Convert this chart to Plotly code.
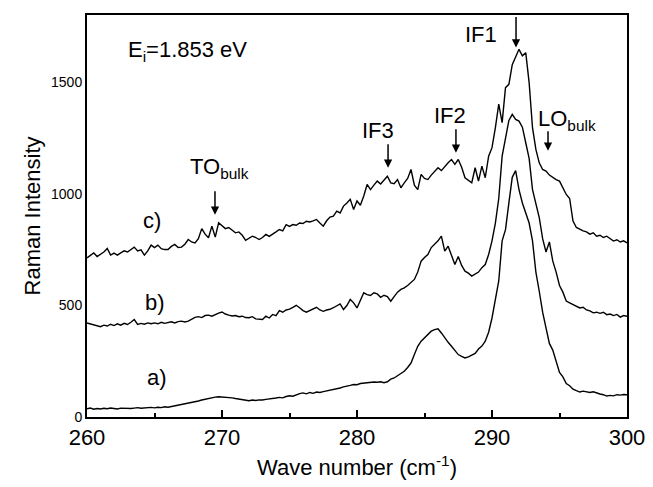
import numpy as np
import plotly.graph_objects as go

# Wave number grid (cm^-1), 0.25 cm^-1 spacing from 260 to 300
wavenumber = np.round(np.arange(260.0, 300.0001, 0.25), 2)

# Spectrum a) (rows: one row per cm^-1, 4 samples each)
spec_a = [
    37, 40, 35, 38,
    36, 39, 37, 40,
    38, 36, 40, 39,
    41, 38, 40, 42,
    39, 41, 40, 43,
    41, 44, 42, 46,
    44, 47, 50, 52,
    55, 57, 60, 64,
    67, 72, 76, 80,
    83, 87, 89, 91,
    90, 91, 89, 86,
    83, 80, 76, 74,
    73, 76, 74, 77,
    76, 79, 81, 80,
    85, 88, 86, 92,
    95, 93, 100, 105,
    108, 104, 110, 106,
    112, 110, 114, 117,
    118, 122, 126, 130,
    135, 140, 142, 146,
    145, 150, 152, 155,
    154, 157, 156, 158,
    154, 158, 170, 175,
    185, 195, 205, 222,
    242, 280, 317, 340,
    355, 372, 385, 392,
    396, 377, 355, 335,
    317, 300, 280, 272,
    265, 270, 278, 285,
    305, 318, 340, 380,
    444, 520, 610, 790,
    840, 960, 1075, 1105,
    1020, 960, 915, 870,
    790, 650, 564, 470,
    400, 330, 300, 245,
    200, 180, 150, 140,
    125, 118, 112, 116,
    114, 110, 113, 107,
    103, 100, 94, 97,
    95, 100, 98, 101,
    100,
]

# Spectrum b)
spec_b = [
    422, 418, 414, 410,
    405, 412, 408, 416,
    410, 418, 412, 420,
    415, 425, 437, 415,
    420, 416, 422, 418,
    422, 418, 425, 420,
    424, 427, 422, 428,
    430, 426, 430, 440,
    447, 450, 446, 455,
    457, 452, 460, 466,
    471, 462, 457, 453,
    455, 450, 452, 446,
    445, 450, 440, 437,
    437, 452, 444, 460,
    455, 477, 470, 480,
    484, 492, 501, 490,
    477, 470, 477, 485,
    492, 480, 474, 480,
    483, 490, 500, 507,
    482, 500, 527, 512,
    489, 520, 557, 549,
    545, 557, 552, 537,
    546, 540, 519, 540,
    560, 572, 579, 590,
    605, 617, 650, 699,
    715, 729, 760, 774,
    790, 811, 744, 766,
    729, 684, 720, 680,
    654, 645, 632, 640,
    650, 670, 684, 729,
    790, 870, 980, 1170,
    1260, 1330, 1357, 1335,
    1327, 1300, 1230, 1160,
    1020, 960, 894, 800,
    740, 785, 700, 650,
    590, 560, 520, 512,
    504, 498, 489, 492,
    480, 476, 467, 470,
    465, 470, 459, 462,
    455, 460, 448, 455,
    452,
]

# Spectrum c)
spec_c = [
    714, 725, 736, 720,
    729, 740, 756, 726,
    735, 726, 736, 745,
    740, 752, 762, 745,
    750, 726, 745, 771,
    760, 771, 755, 751,
    751, 765, 774, 760,
    762, 775, 796, 785,
    781, 800, 845, 820,
    804, 856, 807, 871,
    860, 845, 850, 840,
    826, 830, 815, 792,
    800, 811, 805, 796,
    805, 819, 810, 822,
    830, 841, 835, 863,
    855, 863, 860, 870,
    868, 878, 875, 880,
    886, 870, 856, 880,
    897, 901, 923, 915,
    946, 960, 976, 931,
    969, 950, 991, 1043,
    1020, 1040, 1058, 1045,
    1065, 1080, 1050, 1046,
    1065, 1028, 1050, 1070,
    1110, 1040, 1020, 1088,
    1070, 1065, 1085, 1103,
    1118, 1105, 1125, 1140,
    1155, 1133, 1155, 1120,
    1073, 1060, 1050, 1118,
    1058, 1125, 1073, 1170,
    1208, 1298, 1403, 1320,
    1477, 1492, 1580, 1615,
    1649, 1620, 1634, 1500,
    1298, 1200, 1140, 1110,
    1103, 1085, 1073, 1065,
    1058, 1030, 998, 980,
    879, 850, 841, 835,
    830, 820, 826, 811,
    815, 805, 811, 800,
    789, 795, 785, 790,
    781,
]

x_ticks = [260, 270, 280, 290, 300]
y_ticks = [0, 500, 1000, 1500]

# Curve labels and peak labels
curve_labels = ["a)", "b)", "c)"]
curve_label_pos = [(265.2, 175), (265.0, 512), (264.8, 880)]
peak_labels = ["TO<sub>bulk</sub>", "IF3", "IF2", "IF1", "LO<sub>bulk</sub>"]
peak_label_pos = [(267.5, 1118, "left"), (281.56, 1284, "center"), (286.9, 1351, "center"),
                  (289.2, 1715, "center"), (293.26, 1333, "left")]
arrow_tips = [(269.48, 907, -25), (282.3, 1118, -25), (287.33, 1185, -25),
              (291.78, 1657, -32), (294.15, 1194, -21)]

FONT = "Liberation Sans, Arial, sans-serif"

fig = go.Figure()
for name, ys in zip(curve_labels, [spec_a, spec_b, spec_c]):
    fig.add_trace(go.Scatter(x=wavenumber, y=ys, mode="lines", name=name,
                             line=dict(color="black", width=1.4), showlegend=False))

annotations = []
for lab, (xx, yy) in zip(curve_labels, curve_label_pos):
    annotations.append(dict(x=xx, y=yy, xref="x", yref="y", text=lab, showarrow=False,
                            font=dict(size=22, color="black", family=FONT)))
for lab, (xx, yy, anc) in zip(peak_labels, peak_label_pos):
    annotations.append(dict(x=xx, y=yy, xref="x", yref="y", text=lab, showarrow=False,
                            xanchor=anc, font=dict(size=22, color="black", family=FONT)))
for (xx, yy, ay) in arrow_tips:
    annotations.append(dict(x=xx, y=yy, xref="x", yref="y", text="", showarrow=True,
                            ax=0, ay=ay, arrowhead=2, arrowsize=1.1, arrowwidth=1.5,
                            arrowcolor="black", standoff=0, startstandoff=0))
annotations.append(dict(x=262.9, y=1643, xref="x", yref="y", xanchor="left",
                        text="E<sub>i</sub>=1.853 eV", showarrow=False,
                        font=dict(size=22, color="black", family=FONT)))

fig.update_layout(
    width=653, height=487,
    margin=dict(l=79, r=34, t=7, b=78, autoexpand=False),
    paper_bgcolor="white", plot_bgcolor="white",
    annotations=annotations,
    xaxis=dict(range=[260, 300], tickvals=x_ticks, ticks="inside", ticklen=7, tickwidth=1.5,
               tickcolor="black", showline=True, linecolor="black", linewidth=2, mirror=True,
               showgrid=False, zeroline=False, automargin=False,
               minor=dict(ticks="inside", dtick=5, ticklen=4, tickwidth=1.5, tickcolor="black"),
               tickfont=dict(size=22, color="black", family=FONT),
               title=dict(text="Wave number (cm<sup>-1</sup>)", standoff=10,
                          font=dict(size=22, color="black", family=FONT))),
    yaxis=dict(range=[0, 1803], tickvals=y_ticks, ticks="", showline=True, linecolor="black",
               linewidth=2, mirror=True, showgrid=False, zeroline=False, automargin=False,
               tickfont=dict(size=14, color="black", family=FONT),
               title=dict(text="Raman Intensity", standoff=4,
                          font=dict(size=22, color="black", family=FONT))),
)

fig.write_html("out.html")
